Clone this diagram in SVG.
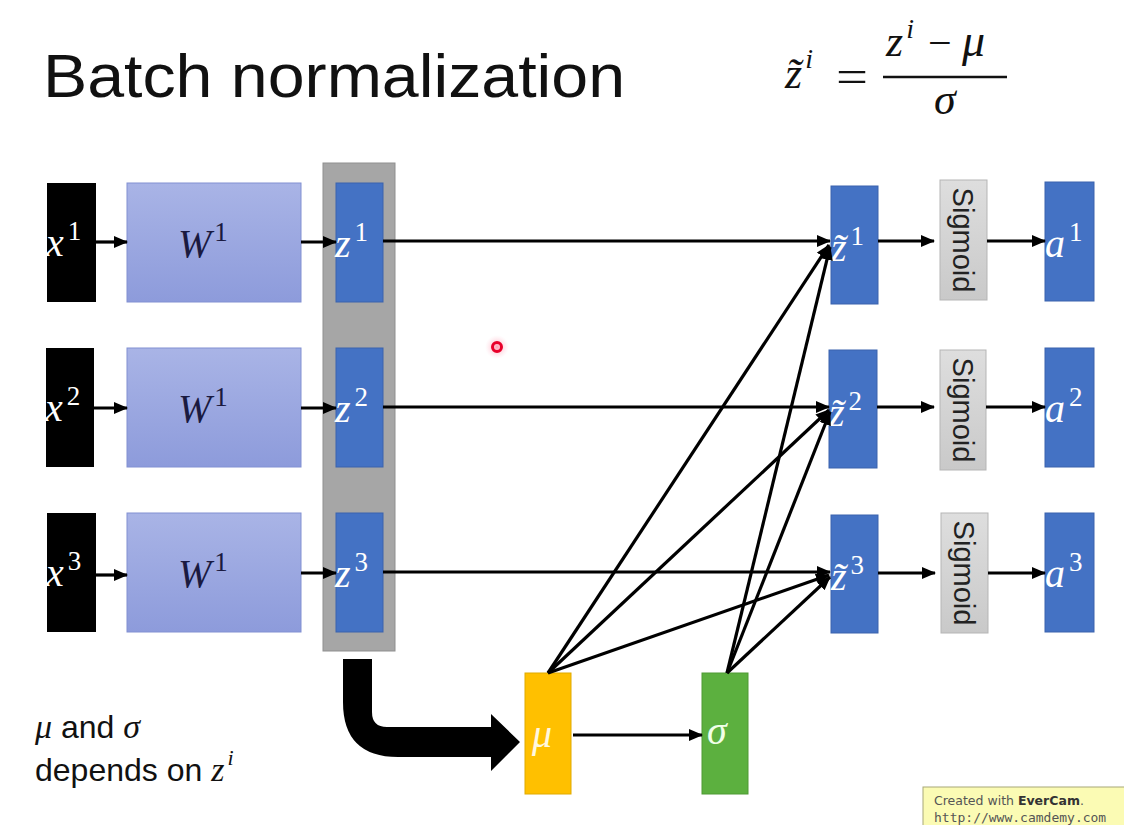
<svg xmlns="http://www.w3.org/2000/svg" width="1124" height="825" viewBox="0 0 1124 825">
<defs>
<linearGradient id="wgrad" x1="0" y1="0" x2="0" y2="1"><stop offset="0" stop-color="#a9b4e6"/><stop offset="1" stop-color="#8d9bdb"/></linearGradient>
<linearGradient id="sgrad" x1="0" y1="0" x2="0" y2="1"><stop offset="0" stop-color="#dedede"/><stop offset="1" stop-color="#c9c9c9"/></linearGradient>
<radialGradient id="glow"><stop offset="0" stop-color="#ff6080" stop-opacity="0.6"/><stop offset="1" stop-color="#ffc0d0" stop-opacity="0"/></radialGradient>
<marker id="ah" markerUnits="userSpaceOnUse" markerWidth="14" markerHeight="12" refX="13" refY="6" orient="auto"><path d="M0,0 L14,6 L0,12 Z" fill="#000"/></marker>
</defs>
<style>
.xbox{fill:#000}
.wbox{fill:url(#wgrad);stroke:#8190d2;stroke-width:1}
.blue{fill:#4472c4;stroke:#3a63ad;stroke-width:1}
.sig{fill:url(#sgrad);stroke:#b5b5b5;stroke-width:1}
.m{font-family:"Liberation Serif",serif;font-style:italic;font-size:40px}
.sup{font-family:"Liberation Serif",serif;font-size:27px;font-style:normal}
.wt{fill:#fff}
.dk{fill:#1a1a40}
.sigt{font-family:"Liberation Sans",Arial,sans-serif;font-size:29px;fill:#222}
.c{stroke:#000;stroke-width:3.2;fill:none;marker-end:url(#ah)}
</style>
<rect width="1124" height="825" fill="#fff"/>

<g id="title">
<text x="43" y="97" font-family="Liberation Sans,Arial,sans-serif" font-size="62" fill="#111" textLength="582" lengthAdjust="spacingAndGlyphs">Batch normalization</text>
</g>

<g id="formula" font-family="Liberation Serif,serif" fill="#111">
<text x="785" y="88" font-size="44" font-style="italic">z&#x303;<tspan font-size="28" dy="-20" dx="3">i</tspan></text>
<text x="836" y="92" font-size="46" textLength="32" lengthAdjust="spacingAndGlyphs">=</text>
<line x1="883" y1="77" x2="1007" y2="77" stroke="#111" stroke-width="2.5"/>
<text x="886" y="56" font-size="44" font-style="italic">z<tspan font-size="28" dy="-18" dx="3">i</tspan></text>
<text x="928" y="57" font-size="42">−</text>
<text x="962" y="56" font-size="46" font-style="italic">μ</text>
<text x="934" y="114" font-size="44" font-style="italic">σ</text>
</g>

<g id="batch-column"><rect x="323" y="163" width="72" height="488" fill="#a6a6a6" stroke="#8f8f8f" stroke-width="1"/></g>

<g id="x1"><rect class="xbox" x="47" y="183" width="49" height="119"/><text class="m wt" x="46" y="256">x<tspan class="sup" dx="4" dy="-16">1</tspan></text></g>
<g id="x2"><rect class="xbox" x="46" y="348" width="48" height="119"/><text class="m wt" x="45" y="421">x<tspan class="sup" dx="4" dy="-16">2</tspan></text></g>
<g id="x3"><rect class="xbox" x="47" y="513" width="49" height="119"/><text class="m wt" x="46" y="586">x<tspan class="sup" dx="4" dy="-16">3</tspan></text></g>

<g id="w1"><rect class="wbox" x="127" y="183" width="174" height="119"/><text class="m dk" x="178" y="257">W<tspan class="sup" dx="3" dy="-16">1</tspan></text></g>
<g id="w2"><rect class="wbox" x="127" y="348" width="174" height="119"/><text class="m dk" x="178" y="422">W<tspan class="sup" dx="3" dy="-16">1</tspan></text></g>
<g id="w3"><rect class="wbox" x="127" y="513" width="174" height="119"/><text class="m dk" x="178" y="587">W<tspan class="sup" dx="3" dy="-16">1</tspan></text></g>

<g id="z1"><rect class="blue" x="336" y="183" width="47" height="119"/><text class="m wt" x="335" y="257">z<tspan class="sup" dx="4" dy="-16">1</tspan></text></g>
<g id="z2"><rect class="blue" x="336" y="348" width="47" height="119"/><text class="m wt" x="335" y="422">z<tspan class="sup" dx="4" dy="-16">2</tspan></text></g>
<g id="z3"><rect class="blue" x="336" y="513" width="47" height="119"/><text class="m wt" x="335" y="587">z<tspan class="sup" dx="4" dy="-16">3</tspan></text></g>

<g id="zt1"><rect class="blue" x="831" y="186" width="47" height="118"/><text class="m wt" x="831" y="261">z&#x303;<tspan class="sup" dx="4" dy="-16">1</tspan></text></g>
<g id="zt2"><rect class="blue" x="829" y="350" width="48" height="118"/><text class="m wt" x="829" y="426">z&#x303;<tspan class="sup" dx="4" dy="-16">2</tspan></text></g>
<g id="zt3"><rect class="blue" x="831" y="515" width="47" height="118"/><text class="m wt" x="831" y="590">z&#x303;<tspan class="sup" dx="4" dy="-16">3</tspan></text></g>

<g id="sig1"><rect class="sig" x="940" y="180" width="47" height="120"/><text class="sigt" transform="translate(953,240) rotate(90)" text-anchor="middle">Sigmoid</text></g>
<g id="sig2"><rect class="sig" x="940" y="350" width="46" height="120"/><text class="sigt" transform="translate(953,410) rotate(90)" text-anchor="middle">Sigmoid</text></g>
<g id="sig3"><rect class="sig" x="941" y="513" width="47" height="120"/><text class="sigt" transform="translate(954,573) rotate(90)" text-anchor="middle">Sigmoid</text></g>

<g id="a1"><rect class="blue" x="1045" y="182" width="49" height="119"/><text class="m wt" x="1045" y="257">a<tspan class="sup" dx="4" dy="-16">1</tspan></text></g>
<g id="a2"><rect class="blue" x="1045" y="348" width="49" height="119"/><text class="m wt" x="1045" y="422">a<tspan class="sup" dx="4" dy="-16">2</tspan></text></g>
<g id="a3"><rect class="blue" x="1045" y="513" width="49" height="119"/><text class="m wt" x="1045" y="587">a<tspan class="sup" dx="4" dy="-16">3</tspan></text></g>

<g id="mu"><rect x="525" y="673" width="46" height="121" fill="#ffc000" stroke="#e0aa00" stroke-width="1"/><text class="m" x="532" y="747" fill="#fff8e0">μ</text></g>
<g id="sigma"><rect x="702" y="673" width="46" height="121" fill="#5cb03f" stroke="#4e9a35" stroke-width="1"/><text class="m" x="707" y="744" fill="#f0ffe8">σ</text></g>

<g id="connectors">
<line class="c" x1="96" y1="242" x2="127" y2="242"/>
<line class="c" x1="94" y1="408" x2="127" y2="408"/>
<line class="c" x1="96" y1="575" x2="127" y2="575"/>
<line class="c" x1="301" y1="242" x2="336" y2="242"/>
<line class="c" x1="301" y1="408" x2="336" y2="408"/>
<line class="c" x1="301" y1="573" x2="336" y2="573"/>
<line class="c" x1="383" y1="241" x2="830" y2="241"/>
<line class="c" x1="383" y1="407" x2="829" y2="407"/>
<line class="c" x1="383" y1="572" x2="830" y2="572"/>
<line class="c" x1="878" y1="241" x2="934" y2="241"/>
<line class="c" x1="877" y1="407" x2="934" y2="407"/>
<line class="c" x1="878" y1="573" x2="935" y2="573"/>
<line class="c" x1="987" y1="241" x2="1045" y2="241"/>
<line class="c" x1="986" y1="407" x2="1045" y2="407"/>
<line class="c" x1="988" y1="573" x2="1045" y2="573"/>
<line class="c" x1="573" y1="735" x2="702" y2="735"/>
<line class="c" x1="548" y1="673" x2="829" y2="245"/>
<line class="c" x1="548" y1="673" x2="829" y2="410"/>
<line class="c" x1="548" y1="673" x2="829" y2="575"/>
<line class="c" x1="727" y1="673" x2="830" y2="247"/>
<line class="c" x1="727" y1="673" x2="830" y2="412"/>
<line class="c" x1="727" y1="673" x2="830" y2="577"/>
<path d="M343,659 L372,659 L372,712 Q372,727 387,727 L491,727 L491,714 L520,742 L491,771 L491,757 L398,757 Q343,757 343,702 Z" fill="#000"/>
</g>

<g id="cursor"><circle cx="497" cy="347" r="12" fill="url(#glow)"/><circle cx="497" cy="347" r="4.5" fill="none" stroke="#e8002a" stroke-width="3"/></g>

<g id="note" font-size="32" fill="#111">
<text x="35" y="738"><tspan font-family="Liberation Serif,serif" font-style="italic" font-size="34">μ</tspan><tspan font-family="Liberation Sans,Arial,sans-serif"> and </tspan><tspan font-family="Liberation Serif,serif" font-style="italic" font-size="34">σ</tspan></text>
<text x="35" y="781"><tspan font-family="Liberation Sans,Arial,sans-serif">depends on </tspan><tspan font-family="Liberation Serif,serif" font-style="italic" font-size="34">z</tspan><tspan font-family="Liberation Serif,serif" font-style="italic" font-size="22" dx="3" dy="-16">i</tspan></text>
</g>

<g id="watermark">
<rect x="923" y="787" width="205" height="42" fill="#fbfbb4" stroke="#a8a878" stroke-width="1"/>
<text x="934" y="805" font-family="DejaVu Sans,sans-serif" font-size="12.5" fill="#555">Created with <tspan font-weight="bold" fill="#333">EverCam</tspan>.</text>
<text x="934" y="822" font-family="DejaVu Sans Mono,monospace" font-size="13" fill="#555">http://www.camdemy.com</text>
</g>
</svg>
